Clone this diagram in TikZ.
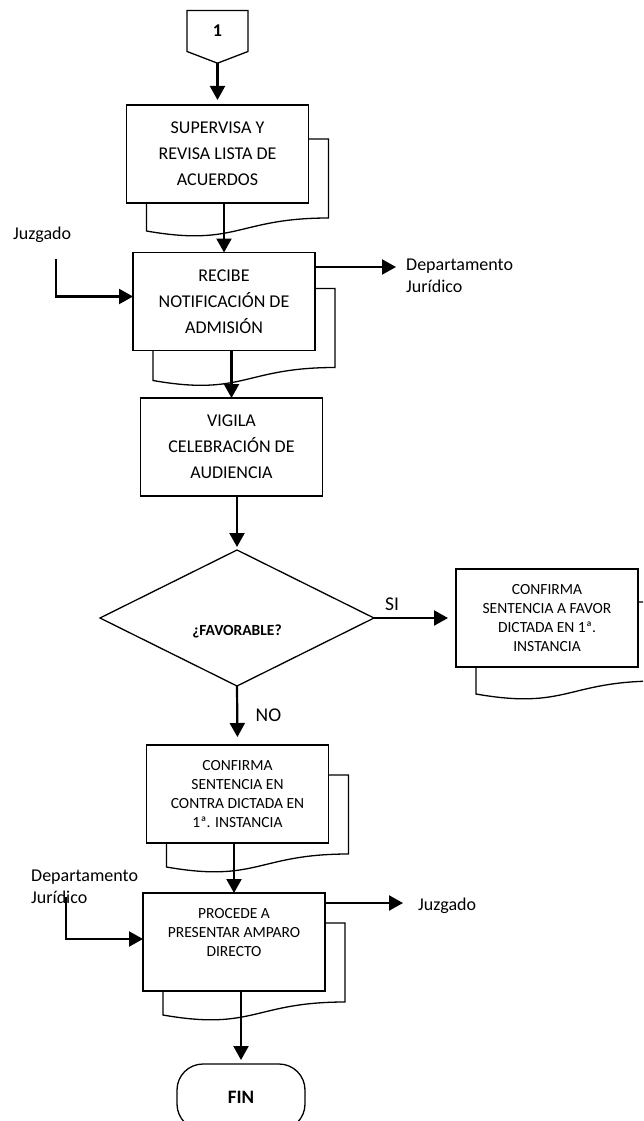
\documentclass[tikz,border=0pt]{standalone}
\usepackage{fontspec}
\setmainfont{Carlito}
\usetikzlibrary{shapes.geometric,shapes.symbols,arrows.meta,calc,backgrounds}

\tikzset{
  proc/.style={draw, line width=1.3pt, fill=white, minimum width=182pt, minimum height=98pt,
    align=center, inner sep=2pt, outer sep=0pt, font=\fontsize{18}{26}\selectfont},
  procsm/.style={proc, font=\fontsize{15.5}{19}\selectfont},
  dec/.style={diamond, draw, line width=1.3pt, aspect=2, minimum width=274pt, minimum height=136pt,
    inner sep=0pt, outer sep=0pt, text height=34pt, text depth=0pt, font=\bfseries\fontsize{15.5}{19}\selectfont},
  term/.style={draw, line width=1.3pt, rounded corners=26pt, minimum width=128pt, minimum height=66pt,
    outer sep=0pt, font=\bfseries\fontsize{19}{23}\selectfont},
  conn/.style={signal, signal to=south, signal pointer angle=138, draw, line width=1.3pt,
    minimum width=61pt, minimum height=44pt, outer sep=0pt, font=\bfseries\fontsize{18}{20}\selectfont},
  lbl/.style={align=left, inner sep=0pt, font=\fontsize{18}{22}\selectfont},
  yesno/.style={font=\fontsize{19.5}{23}\selectfont},
  flow/.style={line width=2.2pt, -{Triangle[length=14pt,width=15pt]}},
  boxline/.style={line width=1.3pt}
}

% document shape behind a box: node, offset down
\newcommand{\docshadow}[2]{%
  \draw[boxline] ($(#1.north west)+(20,#2)$) -- ($(#1.north east)+(20,#2)$)
    -- ($(#1.north east)+(20,#2+79)$)
    .. controls ($(#1.north)+(20,#2+79)$) and ($(#1.north)+(20,#2+108)$)
    .. ($(#1.north west)+(20,#2+92)$) -- cycle;}

\begin{document}
\begin{tikzpicture}[x=1pt,y=-1pt]
  \useasboundingbox (0,0) rectangle (643,1121);
  \clip (0,0) rectangle (643,1121);

  \node[conn] (c1) at (217.5,31) {1};
  \node[proc] (b1) at (217.5,154) {SUPERVISA Y\\REVISA LISTA DE\\ACUERDOS};
  \node[proc] (b2) at (224,301.5) {RECIBE\\NOTIFICACIÓN DE\\ADMISIÓN};
  \node[proc] (b3) at (231.5,447) {VIGILA\\CELEBRACIÓN DE\\AUDIENCIA};
  \node[dec] (q1) at (237,618) {¿FAVORABLE?};
  \node[procsm] (b6) at (547,618) {CONFIRMA\\SENTENCIA A FAVOR\\DICTADA EN 1ª.\\INSTANCIA};
  \node[procsm] (b4) at (237.5,794) {CONFIRMA\\SENTENCIA EN\\CONTRA DICTADA EN\\1ª. INSTANCIA};
  \node[procsm] (b5) at (234,942) {PROCEDE A\\PRESENTAR AMPARO\\DIRECTO\\\mbox{}};
  \node[term] (fin) at (241,1097) {FIN};

  % entradas y salidas
  \node[lbl, anchor=west] (juz1) at (13,235) {Juzgado};
  \node[lbl, anchor=west] (dep1) at (406,276) {Departamento\\Jurídico};
  \node[lbl, anchor=west] (dep2) at (31,886.5) {Departamento\\Jurídico};
  \node[lbl, anchor=west] (juz2) at (418,906) {Juzgado};
  \coordinate (j1) at (56,259);
  \coordinate (o1) at (396,267);
  \coordinate (j2) at (66,897);
  \coordinate (o2) at (403,903);

  \draw[flow] (j1) |- ([yshift=5pt]b2.west);
  \draw[flow] (o1 -| b2.east) -- (o1);
  \draw[flow] (j2) |- ([yshift=3pt]b5.west);
  \draw[flow] (o2 -| b5.east) -- (o2);

  \draw[flow, shorten >=5pt] (c1.south) -- (b1.north);
  \draw[flow] (b1.south -| b2.north) -- (b2.north);
  \draw[flow] (b2.south -| b3.north) -- (b3.north);
  \draw[flow, shorten >=3pt] (b3.south -| q1.north) -- (q1.north);
  \draw[flow, shorten >=8pt] (q1.east) -- node[yesno, pos=0.22, above=3pt] (si) {SI} (b6.west);
  \draw[flow, shorten >=8pt] (q1.south) -- node[yesno, pos=0.49, right=14pt] (no) {NO} (b4.north);
  \draw[flow] (b4.south -| b5.north) -- (b5.north);
  \draw[flow, shorten >=4pt] (b5.south -| fin.north) -- (fin.north);

  \begin{scope}[on background layer]
    \clip (0,0) rectangle (643,1121);
    \docshadow{b1}{34}
    \docshadow{b2}{36}
    \docshadow{b6}{33}
    \docshadow{b4}{30}
    \docshadow{b5}{30}
  \end{scope}
\end{tikzpicture}
\end{document}
